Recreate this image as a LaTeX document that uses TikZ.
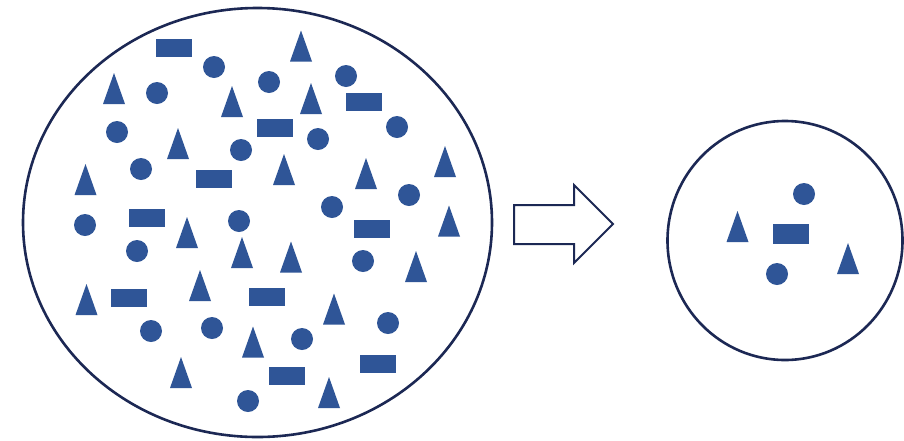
\documentclass[tikz,border=0pt]{standalone}
\usetikzlibrary{shapes.geometric}
\definecolor{shapeblue}{RGB}{47,85,151}
\definecolor{rimnavy}{RGB}{28,40,84}
\tikzset{
  rim/.style={draw=rimnavy, line width=2.6pt},
  dot/.style={circle, fill=shapeblue, draw=none, minimum size=22pt, inner sep=0pt},
  bar/.style={rectangle, fill=shapeblue, draw=none, minimum width=36pt, minimum height=18pt, inner sep=0pt},
  tri/.pic={\fill[shapeblue] (-11,15.5) -- (11,15.5) -- (0,-15.5) -- cycle;},
  hollowarrow/.style={draw=rimnavy, line width=2pt, fill=white, line join=miter}
}
\begin{document}
\begin{tikzpicture}[x=1pt, y=-1pt]
\useasboundingbox (0,0) rectangle (904,440);
\fill[white] (0,0) rectangle (904,440);

% large population
\draw[rim] (257.5,222.5) ellipse [x radius=234.5, y radius=214.5];

% circles
\foreach \x/\y [count=\i] in {214/67, 269/82, 346/76, 157/93, 117/132, 397/127, 318/139,
    241/150, 141/169, 409/195, 332/207, 85/225, 239/221, 137/251, 363/261,
    151/331, 212/328, 302/339, 388/323, 248/401}
  \node[dot] (c\i) at (\x,\y) {};

% bars
\foreach \x/\y [count=\i] in {174/48, 364/102, 275/128, 214/179, 147/218, 372/229,
    129/298, 267/297, 378/364, 287/376}
  \node[bar] (r\i) at (\x,\y) {};

% triangles (x of apex, vertical centre)
\foreach \x/\y in {301/46, 114/88.5, 232/101.5, 311/98.5, 178/143.5, 445/161.5,
    284/169.5, 366/173.5, 85.5/179.5, 449/221, 187/232.5, 242/252.5, 291/257,
    416/266.5, 200/285.5, 86.5/299.5, 334/309, 253/342, 181/372.5, 329/392.5}
  \pic at (\x,\y) {tri};

% arrow
\draw[hollowarrow] (514,205) -- (574,205) -- (574,185) -- (613,224)
  -- (574,263) -- (574,244) -- (514,244) -- cycle;

% sample
\draw[rim] (785,240.5) ellipse [x radius=117.5, y radius=119.5];
\node[dot] (s1) at (804,194) {};
\node[dot] (s2) at (777,274) {};
\node[bar, minimum height=20pt] (s3) at (791,234) {};
\pic at (737.5,226.5) {tri};
\pic at (848,258.5) {tri};
\end{tikzpicture}
\end{document}
